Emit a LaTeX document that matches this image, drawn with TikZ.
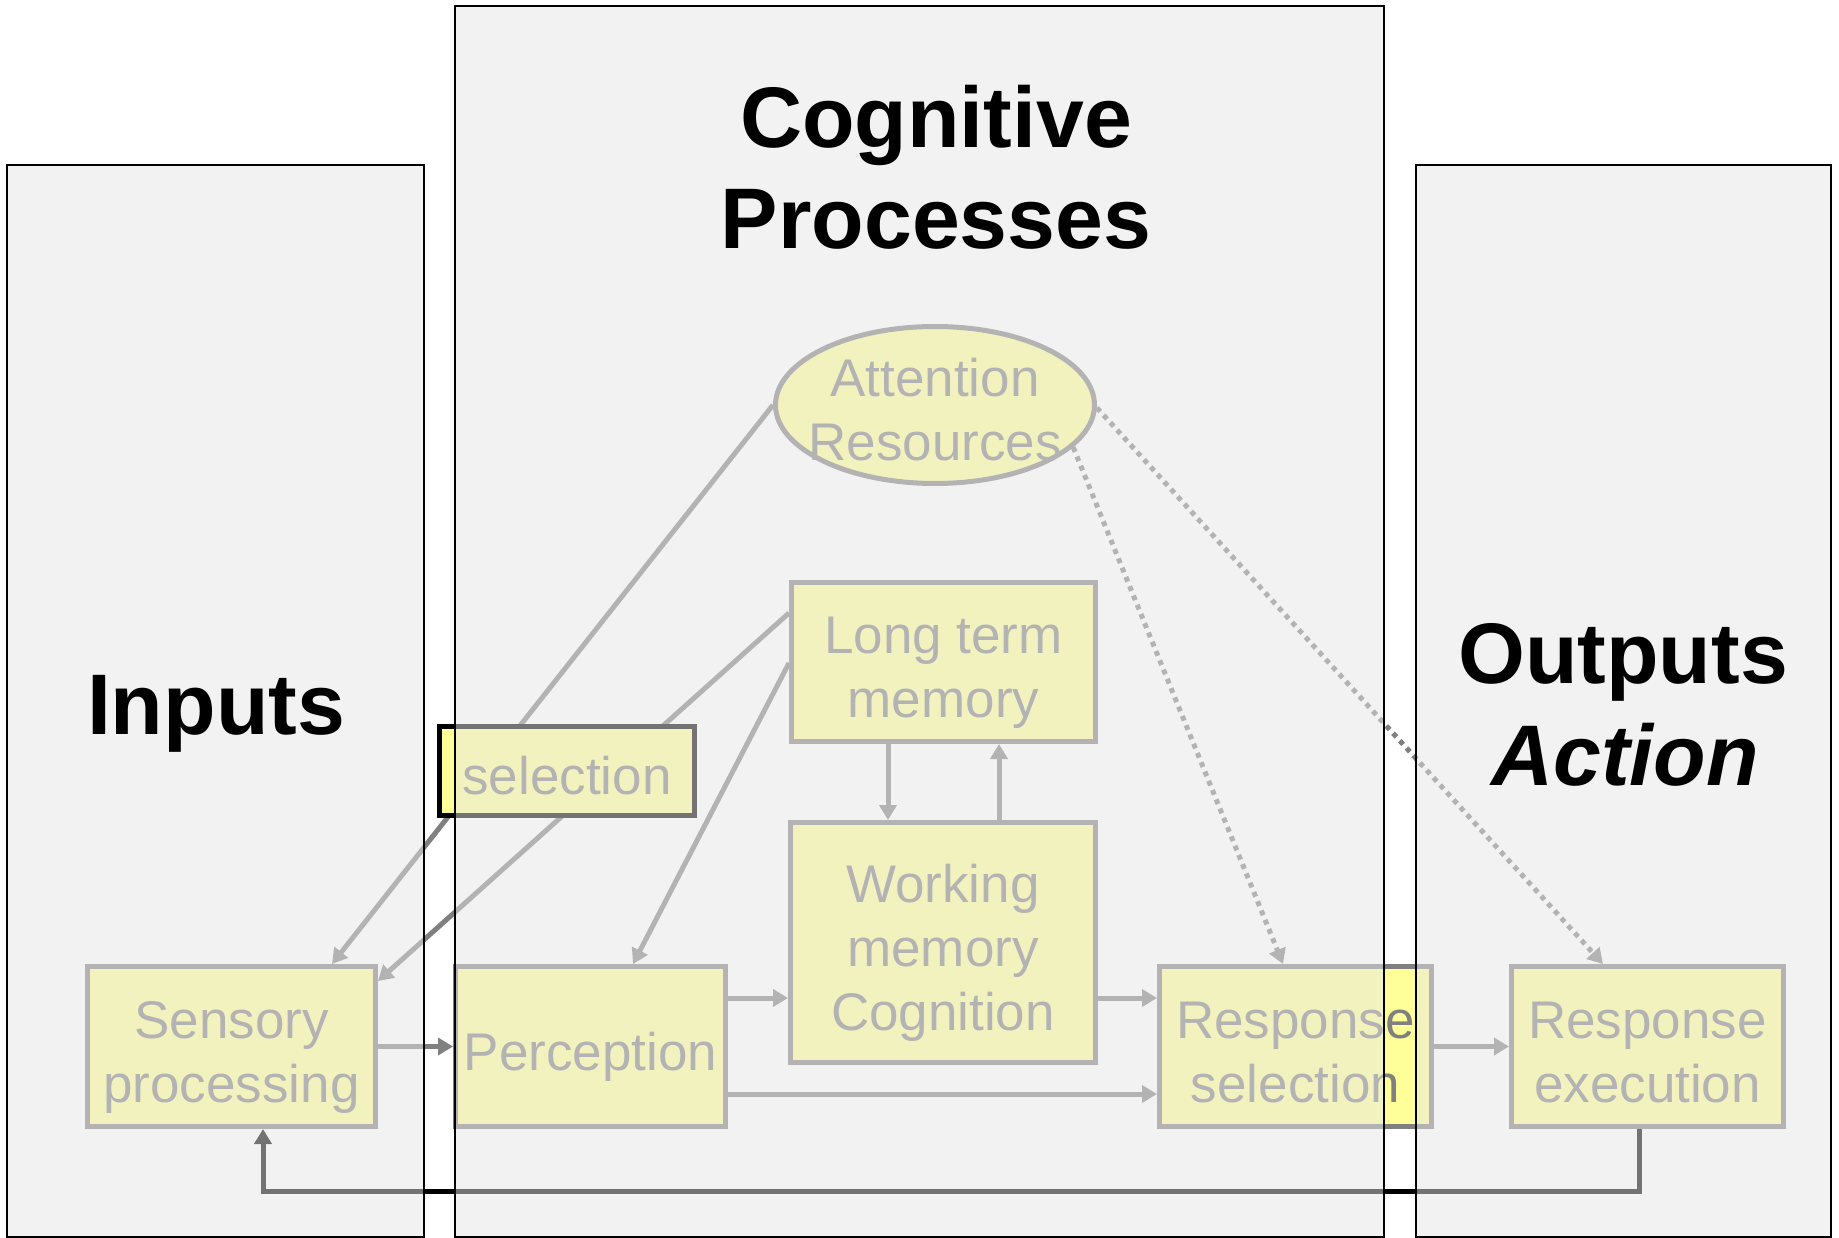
\documentclass[tikz,border=0pt]{standalone}
\usepackage{fontspec}
\setmainfont{Liberation Sans}
\usetikzlibrary{arrows.meta,shapes.geometric}
\definecolor{ul}{HTML}{808080}
\definecolor{yl}{HTML}{FFFF99}
\definecolor{pan}{HTML}{E6E6E6}
\newcommand\ftop{\rule{0pt}{59pt}}
\newcommand\fbot{\rule[-12pt]{0pt}{0pt}}
\begin{document}
\begin{tikzpicture}[x=1pt,y=-1pt,
  box/.style={rectangle, draw=ul, fill=yl, line width=5pt, text=ul,
    font=\fontsize{53}{64}\selectfont, align=center, inner sep=0pt},
  conn/.style={draw=ul, line width=5pt, -{Triangle[length=15pt,width=17pt]}},
  dotc/.style={conn, dash pattern=on 5pt off 5pt},
  fb/.style={draw=black, line width=5pt, -{Triangle[length=15pt,width=17pt]}},
  panel/.style={fill=pan, fill opacity=0.5, draw=black, line width=1.5pt},
  title/.style={font=\fontsize{86}{101}\selectfont\bfseries, text=black,
    inner sep=0pt, anchor=base}]
\useasboundingbox (0,0) rectangle (1839,1238);
\fill[white] (0,0) rectangle (1839,1238);

% nodes
\node[box, minimum width=288pt, minimum height=160pt] (sens) at (231.5,1046.5) {\ftop Sensory\\processing\fbot};
\node[box, minimum width=270pt, minimum height=160pt] (perc) at (590.5,1046.5) {\ftop Perception\fbot};
\node[box, minimum width=305pt, minimum height=240pt] (wm) at (943,942.5) {\ftop Working\\memory\\Cognition\fbot};
\node[box, minimum width=304pt, minimum height=159pt] (ltm) at (943.5,662) {\ftop Long term\\memory\fbot};
\node[box, minimum width=272pt, minimum height=160pt] (rs) at (1295.5,1046.5) {\ftop Response\\selection\fbot};
\node[box, minimum width=272pt, minimum height=160pt] (re) at (1647.5,1046.5) {\ftop Response\\execution\fbot};
\node[box, ellipse, minimum width=319pt, minimum height=157pt, inner xsep=-25pt, inner ysep=-30pt] (att) at (935,405) {\ftop Attention\\Resources\fbot};

% connectors
\coordinate (fbc) at (263,1191);
\draw[conn] (att.west) -- (sens.north -| 332,0);
\draw[conn] (ltm.west |- 0,613) -- (sens.east |- 0,981);
\draw[conn] (ltm.west |- 0,663) -- (perc.north -| 633,0);
\draw[conn] (ltm.south -| 888,0) -- (wm.north -| 888,0);
\draw[conn] (wm.north -| 999,0) -- (ltm.south -| 999,0);
\draw[conn] (sens.east) -- (perc.west);
\draw[conn] (perc.east |- 0,998) -- (wm.west |- 0,998);
\draw[conn] (wm.east |- 0,998) -- (rs.west |- 0,998);
\draw[conn] (perc.east |- 0,1094) -- (rs.west |- 0,1094);
\draw[conn] (rs.east) -- (re.west);
\draw[dotc] (att.-17) -- (rs.north -| 1283,0);
\draw[dotc] (att.-1) -- (re.north -| 1603,0);
\draw[fb] (re.south -| 1639,0) |- (fbc) -- (sens.south -| fbc);

\node[box, draw=black, minimum width=255pt, minimum height=89pt] (sel) at (567,771) {\ftop selection\fbot};

% panels
\path[panel] (7,165) rectangle (424,1237);
\path[panel] (455,6) rectangle (1384,1237);
\path[panel] (1416,165) rectangle (1831,1237);

% titles
\node[title] (cog) at (936,148) {Cognitive};
\node[title] (proc) at (936,249) {Processes};
\node[title] (inp) at (216,734) {Inputs};
\node[title] (outp) at (1623,683) {Outputs};
\node[title, font=\fontsize{86}{101}\selectfont\bfseries\itshape] (act) at (1625,785) {Action};
\end{tikzpicture}
\end{document}
